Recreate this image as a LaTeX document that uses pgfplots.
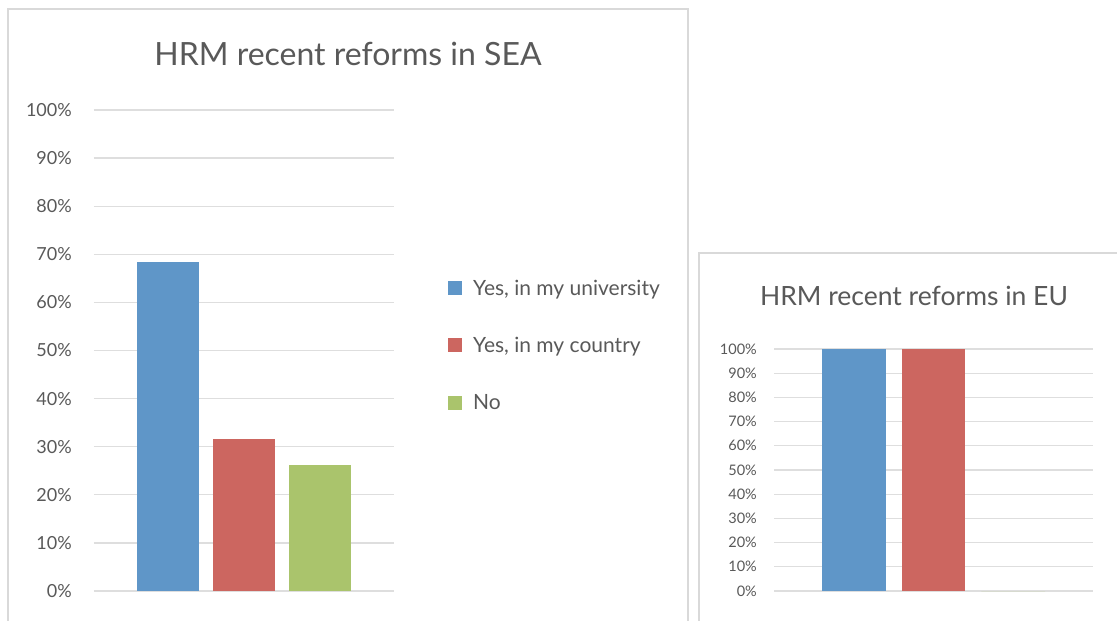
\documentclass[border=0pt]{standalone}
\usepackage{fontspec}
\setmainfont{Lato}
\usepackage{pgfplots}
\pgfplotsset{compat=1.18}
\definecolor{txt}{HTML}{595959}
\definecolor{gridc}{HTML}{DEDEDE}
\definecolor{framec}{HTML}{D9D9D9}
\definecolor{cblue}{HTML}{5F96C8}
\definecolor{cred}{HTML}{CC6660}
\definecolor{cgreen}{HTML}{AAC46C}
\pgfplotsset{
 barstyle/.style={
  scale only axis, xmin=-1.5, xmax=1.5, ymin=0, ymax=100,
  axis line style={draw=none}, major tick length=0pt,
  xtick=\empty, ytick={0,10,20,30,40,50,60,70,80,90,100},
  yticklabels={0\%,10\%,20\%,30\%,40\%,50\%,60\%,70\%,80\%,90\%,100\%},
  ymajorgrids, grid style={gridc, line width=1.3pt},
  yticklabel style={anchor=east, inner sep=0pt, text=txt},
  clip=false,
 }
}
\begin{document}
\begin{tikzpicture}[x=1pt,y=1pt]
\path[use as bounding box] (0,0) rectangle (1117,-621);
\clip (0,0) rectangle (1117,-621);
\fill[white] (0,0) rectangle (1117,-621);
\draw[framec, line width=1.5pt] (8,-9) rectangle (688,-650);
\draw[framec, line width=1.5pt] (699,-253) rectangle (1150,-650);
\node[anchor=base, text=txt, font=\fontsize{32}{38}\selectfont, inner sep=0pt] at (348,-65) {HRM recent reforms in SEA};
\node[anchor=base, text=txt, font=\fontsize{26.5}{32}\selectfont, inner sep=0pt] at (914,-305) {HRM recent reforms in EU};
\begin{axis}[barstyle, at={(94pt,-591pt)}, anchor=south west, width=300pt, height=481pt,
  yticklabel shift=22pt,
  tick label style={font=\fontsize{18}{22}\selectfont},
  legend style={draw=none, fill=none, at={(1.18,0.6476)}, anchor=north west, inner sep=0pt,
     font=\fontsize{21}{25}\selectfont, text=txt, row sep=40.5pt,
     nodes={inner sep=0pt},
     /tikz/every odd column/.append style={column sep=11pt}},
  legend cell align=left,
  legend image code/.code={\fill[#1] (0pt,-7pt) rectangle (14pt,7pt);},
]
\addplot[ybar, bar width=0.62, bar shift=-0.76, fill=cblue, draw=none] coordinates {(0,68.4)};
\addplot[ybar, bar width=0.62, bar shift=0, fill=cred, draw=none] coordinates {(0,31.6)};
\addplot[ybar, bar width=0.62, bar shift=0.76, fill=cgreen, draw=none] coordinates {(0,26.3)};
\legend{Yes{,} in my university, Yes{,} in my country, No}
\end{axis}
\begin{axis}[barstyle, at={(774pt,-591pt)}, anchor=south west, width=319pt, height=242pt,
  yticklabel shift=17pt,
  tick label style={font=\fontsize{14.5}{17}\selectfont},
]
\addplot[ybar, bar width=0.6, bar shift=-0.75, fill=cblue, draw=none] coordinates {(0,100)};
\addplot[ybar, bar width=0.6, bar shift=0, fill=cred, draw=none] coordinates {(0,100)};
\addplot[ybar, bar width=0.6, bar shift=0.75, fill=cgreen, draw=none] coordinates {(0,0)};
\end{axis}
\end{tikzpicture}
\end{document}
